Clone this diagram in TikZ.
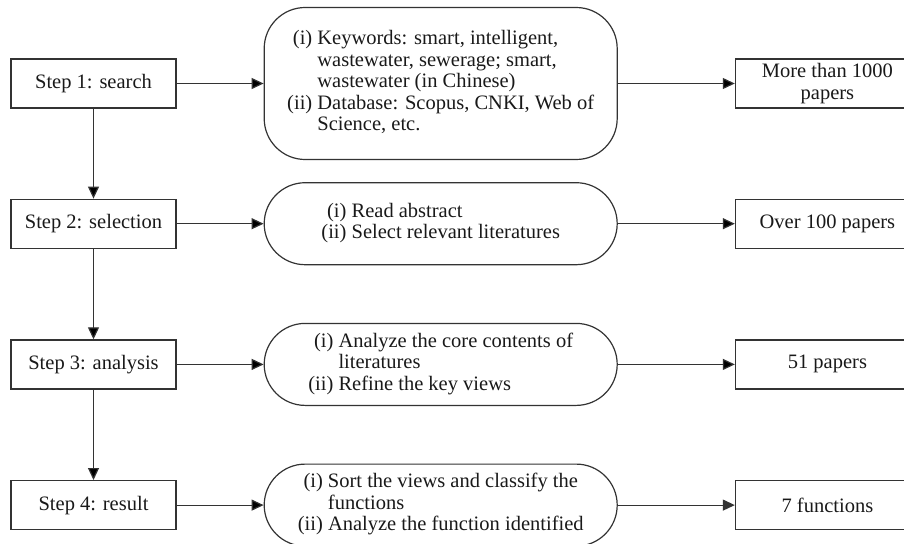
\documentclass[tikz,border=0pt]{standalone}
\usepackage{fontspec}
\setmainfont{Liberation Serif}
\usetikzlibrary{positioning,arrows.meta}

\newcommand{\steplist}[1]{\begin{tabular}{@{}r@{\ }l@{}}#1\end{tabular}}

\begin{document}
\begin{tikzpicture}[
    font=\fontsize{20.5}{21.5}\selectfont,
    >={Triangle[length=12pt,width=11pt]},
    every node/.style={text=black!90},
    every edge/.append style={line width=1.2pt},
    stepbox/.style={draw=black!80, line width=1.2pt, minimum width=165pt,
      minimum height=49pt, inner sep=0pt},
    listbox/.style={draw=black!80, line width=1.2pt, rounded corners=41pt,
      minimum width=353pt, minimum height=82pt, inner sep=0pt},
    outbox/.style={draw=black!80, line width=1.2pt, minimum width=184pt,
      minimum height=49pt, inner sep=0pt, align=center}]
  \useasboundingbox (0,0) rectangle (904pt,-543pt);

  % steps
  \node[stepbox] (s1) at (93.5pt,-83.5pt) {Step 1: search};
  \node[stepbox] (s2) [below=90pt of s1] {Step 2: selection};
  \node[stepbox] (s3) [below=90.5pt of s2] {Step 3: analysis};
  \node[stepbox] (s4) [below=90.5pt of s3] {Step 4: result};

  % what is done
  \node[listbox, minimum height=152pt] (l1) [right=87pt of s1] {\steplist{
      (i) & Keywords: smart, intelligent,\\
          & wastewater, sewerage; smart,\\
          & wastewater (in Chinese)\\
      (ii) & Database: Scopus, CNKI, Web of\\
          & Science, etc.}};
  \node[listbox] (l2) [right=87pt of s2] {\steplist{
      (i) & Read abstract\\
      (ii) & Select relevant literatures}};
  \node[listbox] (l3) [right=87pt of s3] {\steplist{
      (i) & Analyze the core contents of\\
          & literatures\\
      (ii) & Refine the key views}};
  \node[listbox] (l4) [right=87pt of s4] {\steplist{
      (i) & Sort the views and classify the\\
          & functions\\
      (ii) & Analyze the function identified}};

  % outcome
  \node[outbox] (o1) [right=117pt of l1] {More than 1000\\papers};
  \node[outbox] (o2) [right=117pt of l2] {Over 100 papers};
  \node[outbox] (o3) [right=117pt of l3] {51 papers};
  \node[outbox] (o4) [right=117pt of l4] {7 functions};

  \draw[->, draw=black!80, line width=1.2pt]
   (s1) edge (l1)
        edge (s2)
   (s2) edge (l2)
        edge (s3)
   (s3) edge (l3)
        edge (s4)
   (s4) edge (l4)
   (l1) edge (o1)
   (l2) edge (o2)
   (l3) edge (o3)
   (l4) to (o4);
\end{tikzpicture}
\end{document}
